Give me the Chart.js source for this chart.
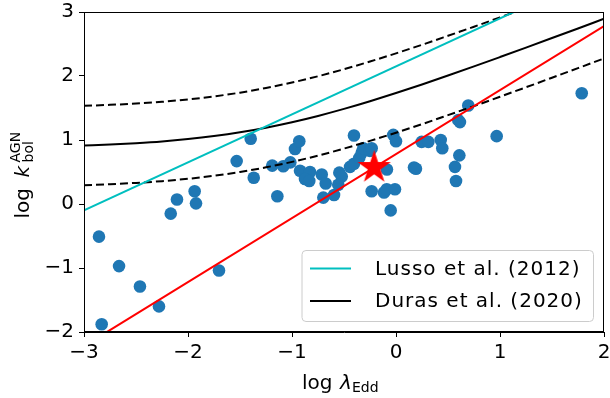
<!DOCTYPE html>
<html>
<head>
<meta charset="utf-8">
<script src="https://cdn.jsdelivr.net/npm/chart.js@4.4.1/dist/chart.umd.min.js"></script>
<style>
    html, body { margin: 0; padding: 0; background: #fff; }
    #wrap { width: 610px; height: 398px; }
</style>
</head>
<body>
<div id="wrap"><canvas id="kbolChart" width="610" height="398"></canvas></div>
<script>
// sample values
const lamX = [-2.856, -2.83, -2.663, -2.462, -2.279, -2.166, -2.106, -1.936, -1.923, -1.702,
    -1.532, -1.397, -1.368, -1.19, -1.141, -1.084, -1.016, -0.971, -0.93, -0.923,
    -0.827, -0.875, -0.834, -0.714, -0.676, -0.545, -0.522, -0.555, -0.699, -0.596,
    -0.404, -0.442, -0.404, -0.353, -0.33, -0.314, -0.25, -0.234, -0.026, 0.0,
    -0.234, -0.115, -0.089, -0.01, -0.051, -0.087, 0.173, 0.192, 0.247, 0.311,
    0.43, 0.445, 0.609, 0.567, 0.577, 0.599, 0.615, 0.695, 0.968, 1.786];
const kbolY = [-0.51, -1.88, -0.97, -1.29, -1.6, -0.15, 0.07, 0.2, 0.01, -1.04,
    0.67, 1.02, 0.41, 0.6, 0.12, 0.59, 0.65, 0.86, 0.98, 0.52,
    0.5, 0.39, 0.36, 0.46, 0.32, 0.49, 0.43, 0.3, 0.1, 0.14,
    1.07, 0.58, 0.63, 0.72, 0.8, 0.87, 0.83, 0.87, 1.08, 0.98,
    0.2, 0.18, 0.23, 0.23, -0.1, 0.54, 0.57, 0.55, 0.97, 0.97,
    1.0, 0.87, 0.76, 0.58, 0.36, 1.31, 1.28, 1.54, 1.06, 1.73];

const starX = [-0.21];
const starY = [0.57];

const curveX = [-3, -2.75, -2.5, -2.25, -2, -1.75, -1.5, -1.25, -1, -0.75, -0.5,
    -0.25, 0, 0.25, 0.5, 0.75, 1, 1.25, 1.5, 1.75, 2];
const durasY = [0.914, 0.929, 0.95, 0.977, 1.014, 1.061, 1.12, 1.193, 1.278, 1.376, 1.486,
    1.606, 1.734, 1.868, 2.008, 2.15, 2.296, 2.444, 2.593, 2.743, 2.894];
const durasUpper = [1.534, 1.549, 1.57, 1.597, 1.634, 1.681, 1.74, 1.813, 1.898, 1.996, 2.106,
    2.226, 2.354, 2.488, 2.628, 2.77, 2.916, 3.064, 3.213, 3.363, 3.514];
const durasLower = [0.294, 0.309, 0.33, 0.357, 0.394, 0.441, 0.5, 0.573, 0.658, 0.756, 0.866,
    0.986, 1.114, 1.248, 1.388, 1.53, 1.676, 1.824, 1.973, 2.123, 2.274];

const lussoX = [-3, 2];
const lussoY = [-0.1, 3.65];
const fitX = [-3, 2];
const fitY = [-2.22, 2.78];

const xTicks = [-3, -2, -1, 0, 1, 2];
const yTicks = [-2, -1, 0, 1, 2, 3];

const FONT = "'DejaVu Sans', sans-serif";
Chart.defaults.font.family = FONT;
Chart.defaults.color = '#000';

function pairs(xs, ys) {
    return xs.map((x, i) => ({ x: x, y: ys[i] }));
}

function minusLabel(v) {
    return v < 0 ? '\u2212' + Math.abs(v) : String(v);
}

// filled five-point star used as marker
function makeStar(r, color) {
    const c = document.createElement('canvas');
    const size = Math.ceil(r * 2 + 2);
    c.width = size;
    c.height = size;
    const g = c.getContext('2d');
    const cx = size / 2, cy = size / 2;
    const inner = r * 0.382;
    g.beginPath();
    for (let i = 0; i < 10; i++) {
        const rad = i % 2 === 0 ? r : inner;
        const a = -Math.PI / 2 + i * Math.PI / 5;
        const px = cx + rad * Math.cos(a);
        const py = cy + rad * Math.sin(a);
        if (i === 0) g.moveTo(px, py); else g.lineTo(px, py);
    }
    g.closePath();
    g.fillStyle = color;
    g.fill();
    return c;
}

// box around the axes, legend and the math axis titles
const decorPlugin = {
    id: 'decor',
    afterDraw(chart) {
        const ctx = chart.ctx;
        const a = chart.chartArea;
        ctx.save();
        ctx.strokeStyle = '#000';
        ctx.lineWidth = 1;
        ctx.strokeRect(a.left + 0.5, a.top + 0.5, a.right - a.left - 1, a.bottom - a.top - 1);

        // legend
        const lx = 302, ly = 250.5, lw = 291.5, lh = 71;
        ctx.beginPath();
        ctx.roundRect(lx, ly, lw, lh, 4);
        ctx.fillStyle = 'rgba(255,255,255,0.8)';
        ctx.fill();
        ctx.strokeStyle = '#cccccc';
        ctx.stroke();
        const items = [
            { text: 'Lusso et al. (2012)', color: '#00bfbf', y: 268.5 },
            { text: 'Duras et al. (2020)', color: '#000000', y: 301 }
        ];
        ctx.font = '20px ' + FONT;
        ctx.textBaseline = 'middle';
        ctx.textAlign = 'left';
        items.forEach(it => {
            ctx.beginPath();
            ctx.moveTo(310, it.y);
            ctx.lineTo(351, it.y);
            ctx.strokeStyle = it.color;
            ctx.lineWidth = 2;
            ctx.stroke();
            ctx.fillStyle = '#000';
            ctx.letterSpacing = '1px';
            ctx.fillText(it.text, 375, it.y + 1);
            ctx.letterSpacing = '0px';
        });

        // x title: log λ_Edd
        ctx.textBaseline = 'alphabetic';
        ctx.fillStyle = '#000';
        ctx.font = '20px ' + FONT;
        ctx.fillText('log', 302, 388.5);
        ctx.font = 'italic 20px ' + FONT;
        ctx.fillText('\u03bb', 340, 388.5);
        ctx.font = '14px ' + FONT;
        ctx.fillText('Edd', 352, 391.5);

        // y title: log k_bol^AGN
        ctx.translate(29, 218.5);
        ctx.rotate(-Math.PI / 2);
        ctx.font = '20px ' + FONT;
        ctx.fillText('log', 0, 0);
        ctx.font = 'italic 20px ' + FONT;
        ctx.fillText('k', 41, 0);
        ctx.font = '14px ' + FONT;
        ctx.fillText('bol', 56, 4);
        ctx.fillText('AGN', 56, -9.5);
        ctx.restore();
    }
};

const ctx = document.getElementById('kbolChart');
new Chart(ctx, {
    type: 'scatter',
    data: {
        datasets: [
            {
                label: 'star',
                data: pairs(starX, starY),
                pointStyle: makeStar(17.5, '#ff0000'),
                pointRadius: 17,
                order: 0
            },
            {
                label: 'fit',
                data: pairs(fitX, fitY),
                showLine: true,
                borderColor: '#ff0000',
                borderWidth: 2,
                pointRadius: 0,
                order: 1
            },
            {
                label: 'Lusso et al. (2012)',
                data: pairs(lussoX, lussoY),
                showLine: true,
                borderColor: '#00bfbf',
                borderWidth: 2,
                pointRadius: 0,
                order: 1
            },
            {
                label: 'Duras et al. (2020)',
                data: pairs(curveX, durasY),
                showLine: true,
                borderColor: '#000',
                borderWidth: 2,
                pointRadius: 0,
                cubicInterpolationMode: 'monotone',
                order: 1
            },
            {
                label: 'Duras upper',
                data: pairs(curveX, durasUpper),
                showLine: true,
                borderColor: '#000',
                borderWidth: 2,
                borderDash: [8, 4],
                pointRadius: 0,
                cubicInterpolationMode: 'monotone',
                order: 1
            },
            {
                label: 'Duras lower',
                data: pairs(curveX, durasLower),
                showLine: true,
                borderColor: '#000',
                borderWidth: 2,
                borderDash: [8, 4],
                pointRadius: 0,
                cubicInterpolationMode: 'monotone',
                order: 1
            },
            {
                label: 'sample',
                data: pairs(lamX, kbolY),
                backgroundColor: '#1f77b4',
                borderWidth: 0,
                pointRadius: 6.3,
                order: 2
            }
        ]
    },
    options: {
        responsive: false,
        animation: false,
        layout: { autoPadding: false, padding: { top: 12, right: 6, left: 0, bottom: 0 } },
        plugins: {
            legend: { display: false },
            tooltip: { enabled: false }
        },
        scales: {
            x: {
                type: 'linear',
                min: -3,
                max: 2,
                afterFit: s => {
                    s.height = 66;
                    s.paddingLeft = 0;
                    s.paddingRight = 0;
                },
                afterBuildTicks: s => { s.ticks = xTicks.map(v => ({ value: v })); },
                ticks: {
                    font: { size: 20 },
                    color: '#000',
                    padding: 4,
                    maxRotation: 0,
                    callback: v => minusLabel(v)
                },
                grid: { drawOnChartArea: false, drawTicks: true, tickLength: 5, color: '#000' },
                border: { display: true, color: '#000', width: 1 }
            },
            y: {
                type: 'linear',
                min: -2,
                max: 3,
                afterFit: s => {
                    s.width = 84;
                    s.paddingTop = 0;
                    s.paddingBottom = 0;
                },
                afterBuildTicks: s => { s.ticks = yTicks.map(v => ({ value: v })); },
                ticks: {
                    font: { size: 20 },
                    color: '#000',
                    padding: 5,
                    callback: v => minusLabel(v)
                },
                grid: { drawOnChartArea: false, drawTicks: true, tickLength: 5, color: '#000' },
                border: { display: true, color: '#000', width: 1 }
            }
        }
    },
    plugins: [decorPlugin]
});
</script>
</body>
</html>
